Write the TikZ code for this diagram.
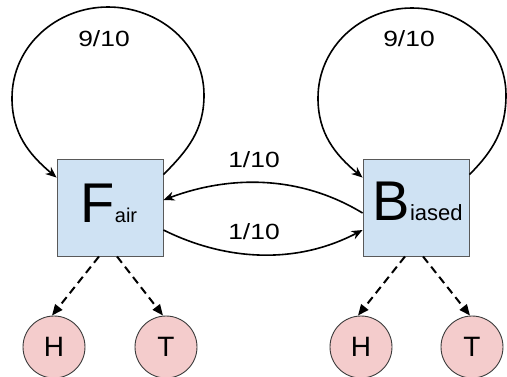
\documentclass[tikz,border=0pt]{standalone}
\usepackage{fontspec}
\usepackage{graphicx}
\setmainfont{Liberation Sans}
\usetikzlibrary{arrows.meta}
\definecolor{boxfill}{HTML}{CFE2F3}
\definecolor{boxline}{HTML}{595959}
\definecolor{coinfill}{HTML}{F4CCCC}
\definecolor{coinline}{HTML}{3A3A3A}
\tikzset{
  statebox/.style={draw=boxline, line width=0.9pt, fill=boxfill, minimum width=106pt, minimum height=97pt, inner sep=0pt},
  coin/.style={circle, draw=coinline, line width=0.9pt, fill=coinfill, minimum size=62pt, inner sep=0pt, font=\fontsize{28}{28}\selectfont},
  trans/.style={line width=1.6pt, -{Stealth[length=11pt,width=9pt]}},
  emit/.style={line width=2pt, dash pattern=on 8pt off 5pt, -{Triangle[length=11pt,width=9pt]}},
  prob/.style={inner sep=0pt, font=\fontsize{22}{22}\selectfont},
  bigtxt/.style={inner sep=0pt, anchor=base west}
}
\newcommand{\lbl}[1]{\scalebox{1.2}[1]{#1}}
\begin{document}
\begin{tikzpicture}[x=1pt, y=-1pt]
\useasboundingbox (0,0) rectangle (507,376);
% state boxes
\node[statebox] (F) at (110,207.5) {};
\node[statebox] (B) at (416,207.5) {};
\node[bigtxt] (Ft) at (80.5,222) {\fontsize{56}{56}\selectfont F\fontsize{20}{20}\selectfont air};
\node[bigtxt] (Bt) at (372.5,220) {\fontsize{56}{56}\selectfont B\fontsize{22}{22}\selectfont iased};
% coins
\node[coin] (H1) at (54,347) {H};
\node[coin] (T1) at (166,347) {T};
\node[coin] (H2) at (361,347) {H};
\node[coin] (T2) at (472,347) {T};
% self loops
\draw[trans] ([yshift=-16pt]F.north east) to[out=45,in=-90] (204,95) to[out=90,in=0] (108,7) to[out=180,in=90] (12,98) to[out=-90,in=140] ([yshift=-19pt]F.north west);
\draw[trans] ([yshift=-16pt]B.north east) to[out=45,in=-90] (506,95) to[out=90,in=0] (412,8) to[out=180,in=90] (318,98) to[out=-90,in=140] ([yshift=-19pt]B.north west);
% transitions between states
\draw[trans] ([yshift=-5.5pt]B.west) .. controls (300,175) and (230,175) .. ([yshift=7.5pt]F.east);
\draw[trans] ([yshift=-22.5pt]F.east) .. controls (230,263) and (300,263) .. ([yshift=-22.5pt]B.west);
% labels
\node[prob] (lF) at (104,38.5) {\lbl{9/10}};
\node[prob] (lB) at (409,38.5) {\lbl{9/10}};
\node[prob] (lBF) at (254,159.5) {\lbl{1/10}};
\node[prob] (lFB) at (254,231.5) {\lbl{1/10}};
% emissions
\draw[emit] ([xshift=-11pt]F.south) -- ([xshift=-2pt]H1.north);
\draw[emit] ([xshift=7pt]F.south) -- ([xshift=-3pt]T1.north);
\draw[emit] ([xshift=-11pt]B.south) -- ([xshift=-3pt]H2.north);
\draw[emit] ([xshift=7pt]B.south) -- ([xshift=-2pt]T2.north);
\end{tikzpicture}
\end{document}
